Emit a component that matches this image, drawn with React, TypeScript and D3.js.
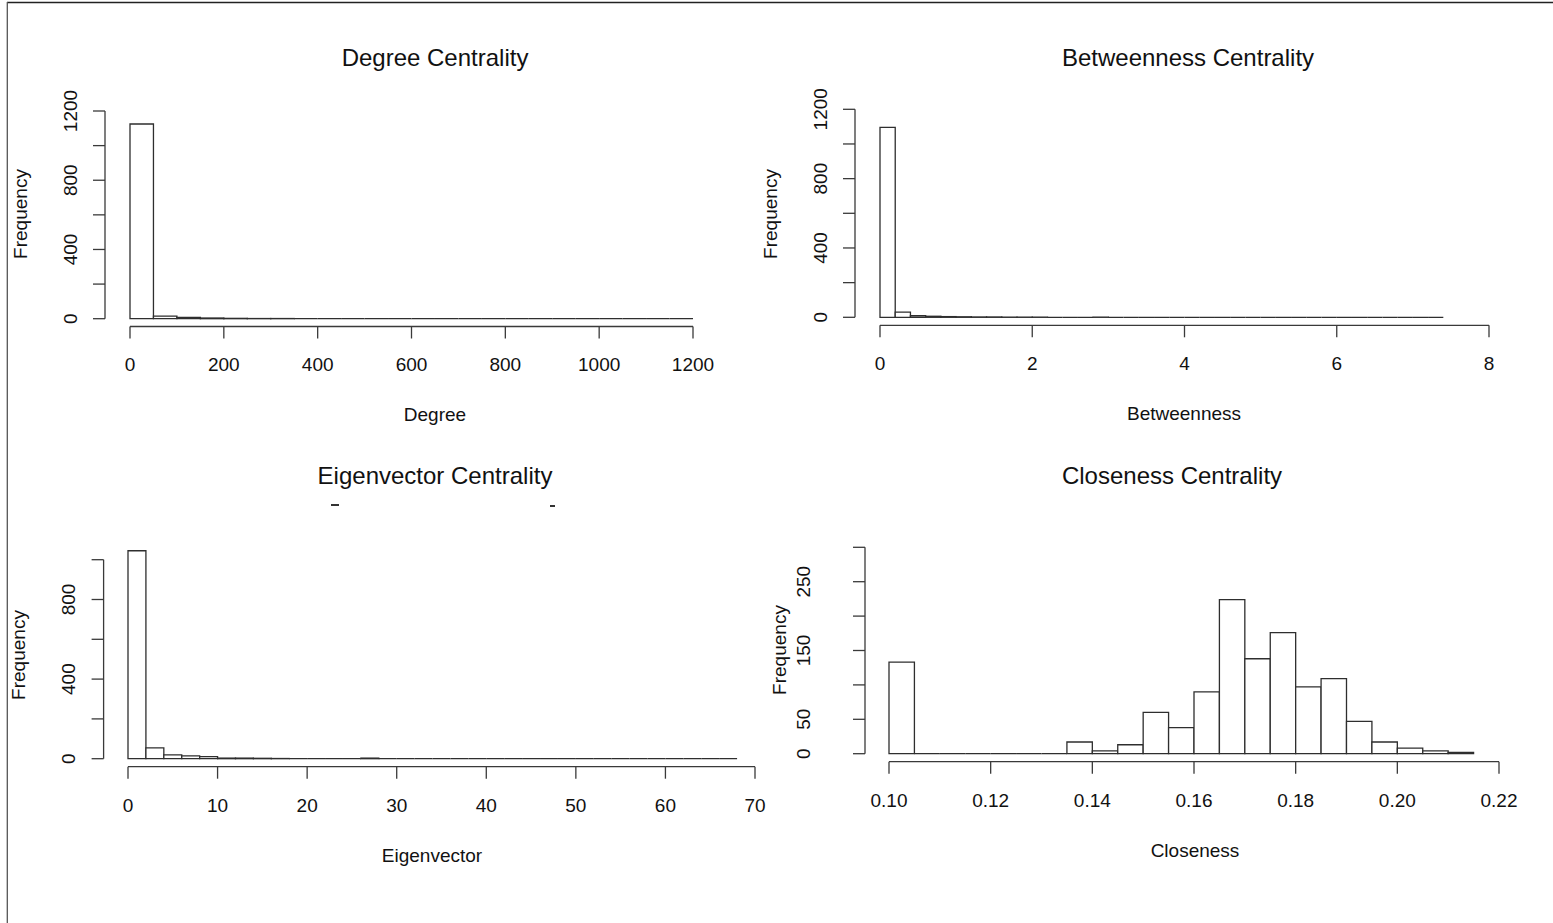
import React from "react";
import * as d3 from "d3";

// ---------- data ----------
const degreeBinWidth = 50;
const degreeCounts = [1125, 15, 8, 4, 2, 1, 1, 0, 0, 0, 0, 0, 0, 0, 0, 0, 0, 0, 0, 0, 0, 0, 0, 0];
const degreeXTicks = [0, 200, 400, 600, 800, 1000, 1200];
const degreeYTicks = [0, 200, 400, 600, 800, 1000, 1200];
const degreeYLabels = [0, 400, 800, 1200];

const betweennessBinWidth = 0.2;
const betweennessCounts = [1096, 30, 9, 6, 4, 3, 2, 2, 1, 1, 1, 0, 0, 0, 1, 0, 0, 0, 0, 0, 0, 0, 0, 0, 0, 0, 0, 0, 0, 0, 0, 0, 0, 0, 0, 0, 0];
const betweennessXTicks = [0, 2, 4, 6, 8];
const betweennessYTicks = [0, 200, 400, 600, 800, 1000, 1200];
const betweennessYLabels = [0, 400, 800, 1200];

const eigenBinWidth = 2;
const eigenCounts = [1045, 54, 19, 14, 10, 3, 3, 2, 1, 0, 0, 0, 0, 3, 0, 0, 0, 0, 0, 0, 0, 0, 0, 0, 0, 0, 0, 0, 0, 0, 0, 0, 0, 0];
const eigenXTicks = [0, 10, 20, 30, 40, 50, 60, 70];
const eigenYTicks = [0, 200, 400, 600, 800, 1000];
const eigenYLabels = [0, 400, 800];

const closenessStart = 0.1;
const closenessBinWidth = 0.005;
const closenessCounts = [133, 0, 0, 0, 0, 0, 0, 17, 4, 13, 60, 38, 90, 224, 138, 176, 97, 109, 47, 17, 8, 4, 2];
const closenessXTicks = [0.1, 0.12, 0.14, 0.16, 0.18, 0.2, 0.22];
const closenessYTicks = [0, 50, 100, 150, 200, 250, 300];
const closenessYLabels = [0, 50, 150, 250];

// ---------- layout ----------
const FONT = "'Liberation Sans', Arial, Helvetica, sans-serif";
const AX = "#3a3a3a";

type PanelCfg = {
  title: string; xLabel: string;
  counts: number[]; start: number; binWidth: number;
  xDomain: [number, number]; xRange: [number, number];
  yDomain: [number, number]; yRange: [number, number];
  xTicks: number[]; yTicks: number[]; yLabels: number[];
  fmt: (v: number) => string;
  yAxisX: number; xAxisY: number; xTickLabelY: number; xLabelX: number; xLabelY: number;
  yTickLabelX: number; yLabelX: number; yLabelY: number;
  titleX: number; titleY: number;
};

function Panel({ c }: { c: PanelCfg }) {
  const x = d3.scaleLinear().domain(c.xDomain).range(c.xRange);
  const y = d3.scaleLinear().domain(c.yDomain).range(c.yRange);
  const tick = 12;
  const yt0 = c.yTicks[0], yt1 = c.yTicks[c.yTicks.length - 1];
  const xt0 = c.xTicks[0], xt1 = c.xTicks[c.xTicks.length - 1];
  return (
    <g fontFamily={FONT} fill="#111">
      <text x={c.titleX} y={c.titleY} dy="0.35em" textAnchor="middle" fontSize={24}>{c.title}</text>
      {c.counts.map((v, i) => {
        const x0 = x(c.start + i * c.binWidth);
        const x1 = x(c.start + (i + 1) * c.binWidth);
        const p = d3.path();
        p.moveTo(x0, y(0));
        p.lineTo(x0, y(v));
        p.lineTo(x1, y(v));
        p.lineTo(x1, y(0));
        p.closePath();
        return <path key={i} d={p.toString()} fill="white" stroke="#2e2e2e" strokeWidth={1.3} />;
      })}
      {/* x axis */}
      <line x1={x(xt0)} x2={x(xt1)} y1={c.xAxisY} y2={c.xAxisY} stroke={AX} strokeWidth={1.3} />
      {c.xTicks.map((t, i) => (
        <g key={i}>
          <line x1={x(t)} x2={x(t)} y1={c.xAxisY} y2={c.xAxisY + tick} stroke={AX} strokeWidth={1.3} />
          <text x={x(t)} y={c.xTickLabelY} dy="0.35em" textAnchor="middle" fontSize={19}>{c.fmt(t)}</text>
        </g>
      ))}
      <text x={c.xLabelX} y={c.xLabelY} dy="0.35em" textAnchor="middle" fontSize={19}>{c.xLabel}</text>
      {/* y axis */}
      <line x1={c.yAxisX} x2={c.yAxisX} y1={y(yt0)} y2={y(yt1)} stroke={AX} strokeWidth={1.3} />
      {c.yTicks.map((t, i) => (
        <line key={i} x1={c.yAxisX - tick} x2={c.yAxisX} y1={y(t)} y2={y(t)} stroke={AX} strokeWidth={1.3} />
      ))}
      {c.yLabels.map((t, i) => (
        <text key={i} transform={`translate(${c.yTickLabelX},${y(t)}) rotate(-90)`} dy="0.35em"
          textAnchor="middle" fontSize={19}>{String(t)}</text>
      ))}
      <text transform={`translate(${c.yLabelX},${c.yLabelY}) rotate(-90)`} dy="0.35em"
        textAnchor="middle" fontSize={19}>Frequency</text>
    </g>
  );
}

const intFmt = (v: number) => String(v);
const dec2 = (v: number) => v.toFixed(2);

const panels: PanelCfg[] = [
  {
    title: "Degree Centrality", xLabel: "Degree",
    counts: degreeCounts, start: 0, binWidth: degreeBinWidth,
    xDomain: [0, 1200], xRange: [130, 693], yDomain: [0, 1200], yRange: [318.7, 111],
    xTicks: degreeXTicks, yTicks: degreeYTicks, yLabels: degreeYLabels, fmt: intFmt,
    yAxisX: 105, xAxisY: 326.5, xTickLabelY: 364, xLabelX: 435, xLabelY: 414,
    yTickLabelX: 70, yLabelX: 20, yLabelY: 214, titleX: 435, titleY: 58,
  },
  {
    title: "Betweenness Centrality", xLabel: "Betweenness",
    counts: betweennessCounts, start: 0, binWidth: betweennessBinWidth,
    xDomain: [0, 8], xRange: [880, 1489], yDomain: [0, 1200], yRange: [317.3, 109.3],
    xTicks: betweennessXTicks, yTicks: betweennessYTicks, yLabels: betweennessYLabels, fmt: intFmt,
    yAxisX: 855, xAxisY: 325.3, xTickLabelY: 363, xLabelX: 1184, xLabelY: 413,
    yTickLabelX: 820, yLabelX: 770, yLabelY: 214, titleX: 1188, titleY: 58,
  },
  {
    title: "Eigenvector Centrality", xLabel: "Eigenvector",
    counts: eigenCounts, start: 0, binWidth: eigenBinWidth,
    xDomain: [0, 70], xRange: [128, 755], yDomain: [0, 1000], yRange: [758.7, 559.7],
    xTicks: eigenXTicks, yTicks: eigenYTicks, yLabels: eigenYLabels, fmt: intFmt,
    yAxisX: 103.6, xAxisY: 766.7, xTickLabelY: 805, xLabelX: 432, xLabelY: 855,
    yTickLabelX: 68, yLabelX: 18, yLabelY: 655, titleX: 435, titleY: 476,
  },
  {
    title: "Closeness Centrality", xLabel: "Closeness",
    counts: closenessCounts, start: closenessStart, binWidth: closenessBinWidth,
    xDomain: [0.1, 0.22], xRange: [889, 1499], yDomain: [0, 300], yRange: [753.7, 547.3],
    xTicks: closenessXTicks, yTicks: closenessYTicks, yLabels: closenessYLabels, fmt: dec2,
    yAxisX: 865, xAxisY: 761.7, xTickLabelY: 800, xLabelX: 1195, xLabelY: 850,
    yTickLabelX: 803, yLabelX: 779, yLabelY: 650, titleX: 1172, titleY: 476,
  },
];

export default function App() {
  return (
    <svg width={1553} height={923} style={{ position: "absolute", left: 0, top: 0, background: "white" }}>
      <rect x={0} y={0} width={1553} height={923} fill="white" />
      <line x1={7} x2={1553} y1={2.5} y2={2.5} stroke="#222" strokeWidth={1.5} />
      <line x1={7.3} x2={7.3} y1={2} y2={923} stroke="#555" strokeWidth={1.3} />
      {panels.map((p, i) => <Panel key={i} c={p} />)}
      {/* remnants of a cropped heading under the Eigenvector title */}
      <line x1={331} x2={339} y1={505} y2={505} stroke="#333" strokeWidth={2} />
      <line x1={550} x2={555} y1={506} y2={506} stroke="#333" strokeWidth={2} />
    </svg>
  );
}
